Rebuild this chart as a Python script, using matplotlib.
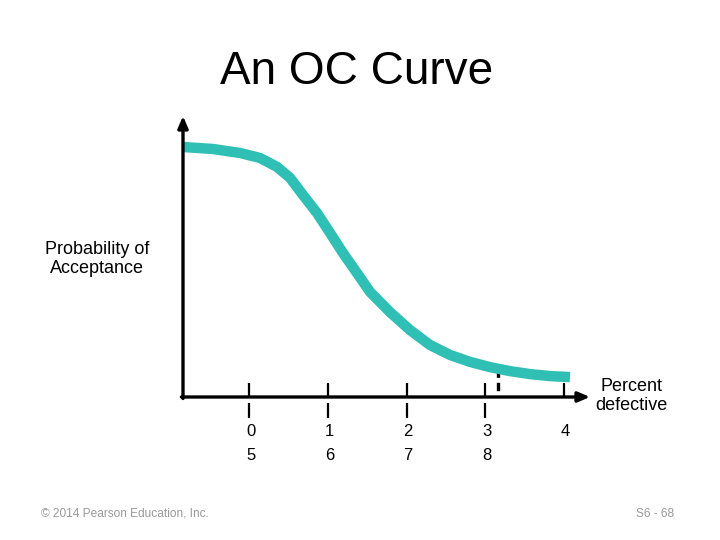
import numpy as np
import matplotlib.pyplot as plt

plt.rcParams['font.family'] = ['Liberation Sans', 'DejaVu Sans']

# ---------- data ----------
pct = [-0.838, -0.457, -0.114, 0.140, 0.356, 0.521, 0.686, 0.863, 1.029,
       1.194, 1.371, 1.537, 1.790, 2.044, 2.298, 2.552, 2.806, 3.060,
       3.314, 3.568, 3.822, 4.076]
prob = [1.004, 0.996, 0.980, 0.960, 0.924, 0.880, 0.811, 0.739, 0.659,
        0.578, 0.498, 0.422, 0.341, 0.269, 0.209, 0.169, 0.141, 0.120,
        0.104, 0.092, 0.084, 0.080]
ticks = [0, 1, 2, 3, 4]
row1 = ["0", "1", "2", "3", "4"]
row2 = ["5", "6", "7", "8"]
dash_x = 3.16

teal = '#2fbfb4'

fig = plt.figure(figsize=(7.2, 5.4), dpi=100)
ax = fig.add_axes([0, 0, 1, 1])
ax.set_xlim(-249 / 78.75, (720 - 249) / 78.75)
ax.set_ylim(-143 / 249, 397 / 249)
ax.axis('off')

# axes with arrows
x0 = (183 - 249) / 78.75
ax.annotate('', xy=(x0, (397 - 116) / 249), xytext=(x0, -0.006),
            arrowprops=dict(arrowstyle='-|>,head_length=0.7,head_width=0.3',
                            color='black', lw=2.4, shrinkA=0, shrinkB=0))
ax.annotate('', xy=((590 - 249) / 78.75, 0), xytext=(x0 - 0.02, 0),
            arrowprops=dict(arrowstyle='-|>,head_length=0.7,head_width=0.3',
                            color='black', lw=2.4, shrinkA=0, shrinkB=0))

# tick marks
ax.vlines(ticks, 0, 14 / 249, color='black', lw=1.6)
ax.vlines(ticks[:4], -6 / 249, -21 / 249, color='black', lw=1.6)

# dashed line under the curve (drawn top-down so it starts with a dash)
y_dash = np.interp(dash_x, pct, prob)
ax.plot([dash_x, dash_x], [y_dash, 0], color='black', lw=2.4, linestyle=(0, (2.5, 1.5)))

# OC curve
ax.plot(pct, prob, color=teal, lw=7.5, solid_capstyle='butt', solid_joinstyle='round')

# numbers under the axis
for t, s in zip(ticks, row1):
    ax.text(t + 0.02, -(432 - 397) / 249, s, ha='center', va='center', fontsize=12)
for t, s in zip(ticks, row2):
    ax.text(t + 0.02, -(455 - 397) / 249, s, ha='center', va='center', fontsize=12)

# labels
fig.text(357 / 720, 1 - 72 / 540, "An OC Curve", ha='center', va='center', fontsize=33)
fig.text(97 / 720, 1 - 259 / 540, "Probability of\nAcceptance", ha='center', va='center',
         fontsize=13, linespacing=1.1)
fig.text(631 / 720, 1 - 396 / 540, "Percent\ndefective", ha='center', va='center',
         fontsize=13, linespacing=1.1)
fig.text(41 / 720, 1 - 514 / 540, "© 2014 Pearson Education, Inc.", ha='left', va='center',
         fontsize=8.6, color='#999999')
fig.text(674 / 720, 1 - 514 / 540, "S6 - 68", ha='right', va='center',
         fontsize=8.6, color='#999999')

fig.savefig("out.png", dpi=100)
